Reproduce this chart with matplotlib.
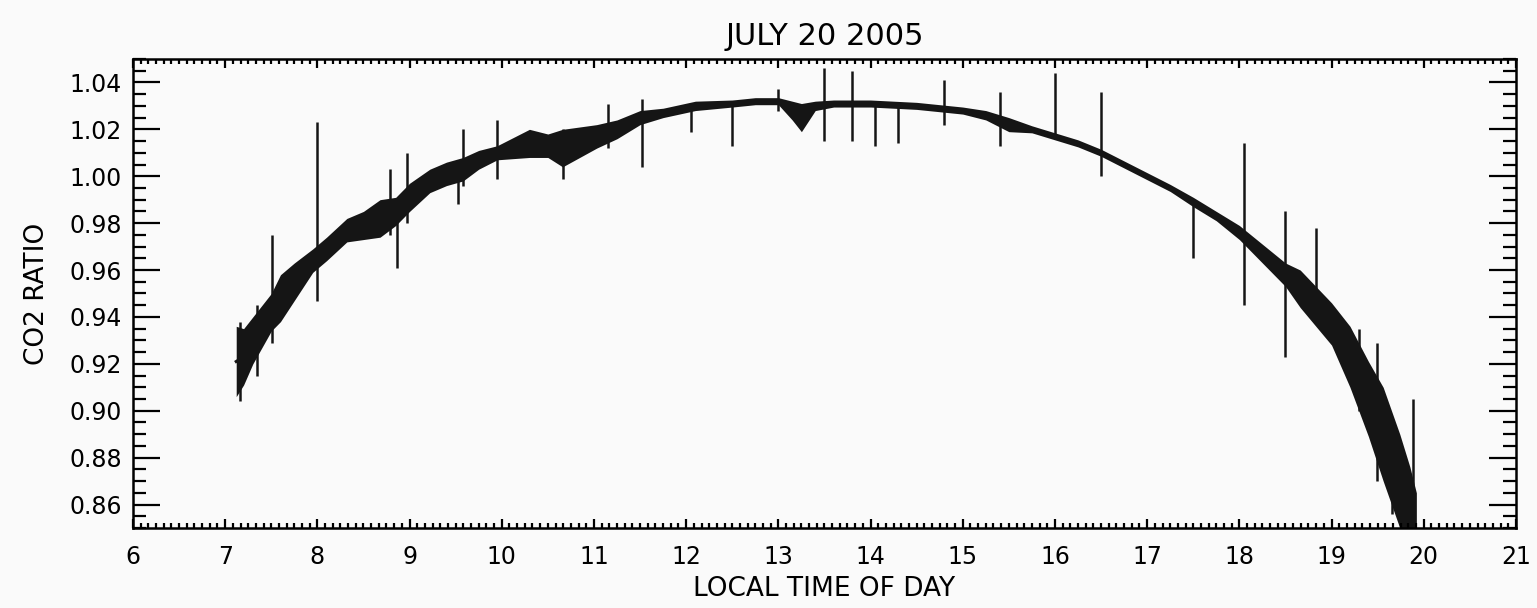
import numpy as np
import matplotlib
matplotlib.use("Agg")
import matplotlib.pyplot as plt
from matplotlib.ticker import MultipleLocator

# values
hours = [7.12, 7.20, 7.30, 7.40, 7.50, 7.60, 7.75, 7.95, 8.10, 8.32, 8.50, 8.68,
         8.85, 9.00, 9.22, 9.40, 9.58, 9.75, 9.95, 10.30, 10.50, 10.66, 11.03,
         11.25, 11.50, 11.75, 12.10, 12.50, 12.75, 13.00, 13.15, 13.25, 13.40,
         13.60, 14.00, 14.50, 15.00, 15.25, 15.50, 15.75, 16.00, 16.25, 16.50,
         16.75, 17.00, 17.25, 17.50, 17.75, 18.00, 18.25, 18.50, 18.66, 19.00,
         19.20, 19.40, 19.56, 19.74, 19.85, 19.92]
ratio = [0.921, 0.923, 0.930, 0.936, 0.942, 0.948, 0.955, 0.964, 0.969, 0.977,
         0.979, 0.982, 0.985, 0.991, 0.998, 1.001, 1.003, 1.007, 1.010, 1.014,
         1.013, 1.012, 1.017, 1.020, 1.025, 1.027, 1.030, 1.031, 1.032, 1.032,
         1.028, 1.025, 1.030, 1.031, 1.031, 1.030, 1.028, 1.026, 1.022, 1.020,
         1.017, 1.014, 1.010, 1.005, 1.000, 0.995, 0.989, 0.983, 0.976, 0.967,
         0.958, 0.952, 0.937, 0.923, 0.905, 0.890, 0.870, 0.856, 0.845]
noise = [0.015, 0.012, 0.010, 0.009, 0.008, 0.010, 0.008, 0.005, 0.005, 0.005,
         0.006, 0.008, 0.006, 0.006, 0.005, 0.005, 0.005, 0.004, 0.003, 0.006,
         0.005, 0.008, 0.005, 0.004, 0.003, 0.002, 0.002, 0.0015, 0.0015, 0.0015,
         0.004, 0.006, 0.002, 0.0015, 0.0015, 0.0015, 0.0015, 0.002, 0.003, 0.0015,
         0.0015, 0.0015, 0.0015, 0.0015, 0.0015, 0.0015, 0.002, 0.002, 0.003, 0.004,
         0.005, 0.008, 0.009, 0.013, 0.016, 0.020, 0.020, 0.020, 0.020]

spike_t = [7.16, 7.35, 7.51, 8.00, 8.79, 8.86, 8.97, 9.53, 9.58, 9.95, 10.66,
           11.15, 11.52, 12.05, 12.50, 13.00, 13.50, 13.80, 14.05, 14.30, 14.80,
           15.40, 16.00, 16.50, 17.50, 18.05, 18.50, 18.83, 19.30, 19.49, 19.66,
           19.88]
spike_lo = [0.904, 0.915, 0.929, 0.947, 0.975, 0.961, 0.980, 0.988, 0.996, 0.999,
            0.999, 1.012, 1.004, 1.019, 1.013, 1.028, 1.015, 1.015, 1.013, 1.014,
            1.022, 1.013, 1.016, 1.000, 0.965, 0.945, 0.923, 0.940, 0.900, 0.870,
            0.856, 0.850]
spike_hi = [0.938, 0.945, 0.975, 1.023, 1.003, 0.990, 1.010, 1.005, 1.020, 1.024,
            1.020, 1.031, 1.033, 1.031, 1.032, 1.037, 1.046, 1.045, 1.031, 1.031,
            1.041, 1.036, 1.044, 1.036, 0.990, 1.014, 0.985, 0.978, 0.935, 0.929,
            0.895, 0.905]

plt.rcParams['font.family'] = 'DejaVu Sans'
fig = plt.figure(figsize=(15.37, 6.08), dpi=100, facecolor='#fafafa')
ax = fig.add_axes([0.0865, 0.1316, 0.8998, 0.7714])
ax.set_facecolor('#fafafa')

h = np.array(hours)
r = np.array(ratio)
n = np.array(noise)
ax.fill_between(h, r - n, r + n, color='#151515', lw=0)
ax.plot(h, r, color='#151515', lw=2.2)
ax.vlines(spike_t, spike_lo, spike_hi, color='#151515', lw=1.8)

ax.set_xlim(6, 21)
ax.set_ylim(0.85, 1.05)
ax.xaxis.set_major_locator(MultipleLocator(1))
ax.xaxis.set_minor_locator(MultipleLocator(1 / 12))
ax.yaxis.set_minor_locator(MultipleLocator(0.005))
yt = np.arange(0.86, 1.041, 0.02)
ax.set_yticks(yt)
ax.set_yticklabels(['%.2f' % v for v in yt])

for s in ax.spines.values():
    s.set_linewidth(1.8)
ax.tick_params(axis='both', which='both', direction='in', top=True, right=True,
               width=1.6, labelsize=17)
ax.tick_params(axis='x', which='major', length=6.8, pad=12)
ax.tick_params(axis='x', which='minor', length=3.4)
ax.tick_params(axis='y', which='major', length=19.5, pad=8)
ax.tick_params(axis='y', which='minor', length=9.5)

ax.set_title('JULY 20 2005', fontsize=22, pad=10)
ax.set_xlabel('LOCAL TIME OF DAY', fontsize=19, labelpad=5)
ax.set_ylabel('CO2 RATIO', fontsize=19, labelpad=14)

fig.savefig('out.png', dpi=100, facecolor=fig.get_facecolor())
